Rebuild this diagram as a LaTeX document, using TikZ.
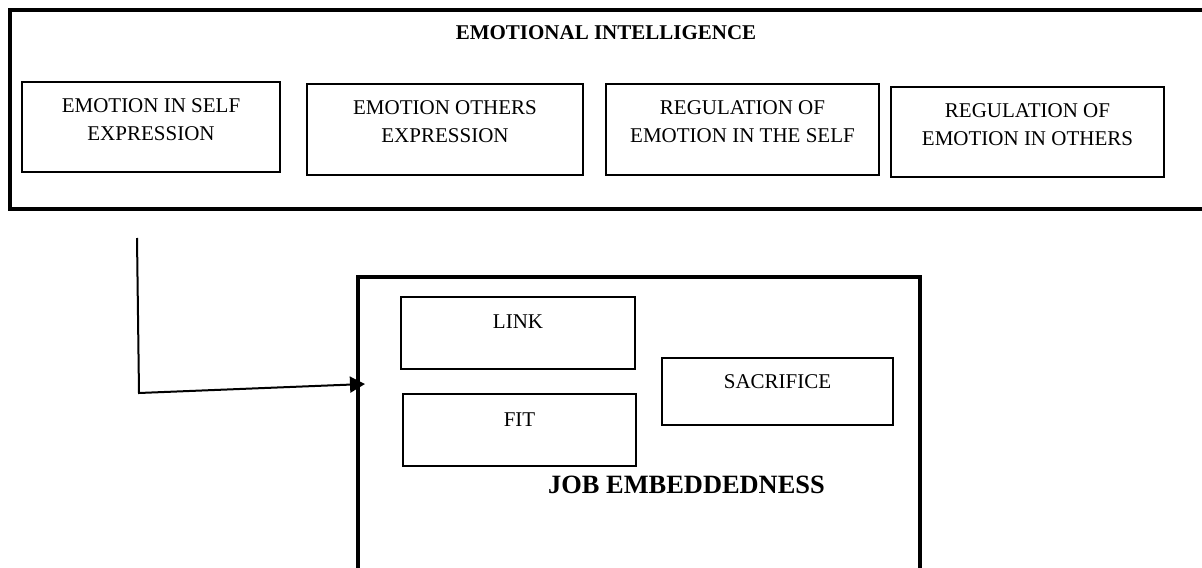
\documentclass[tikz,border=0pt]{standalone}
\usepackage{fontspec}
\setmainfont{Liberation Serif}
\usetikzlibrary{fit,arrows.meta}
\begin{document}
\begin{tikzpicture}[x=0.5pt,y=-0.5pt,
  outerbox/.style={draw,line width=1.6pt,inner sep=0pt},
  innerbox/.style={draw,line width=0.9pt,inner sep=0pt},
  boxtext/.style={font=\fontsize{10.5pt}{13.8pt}\selectfont,align=center,inner sep=0pt},
  linetext/.style={font=\fontsize{10.5pt}{14pt}\selectfont,inner sep=0pt,anchor=base},
  titletext/.style={font=\fontsize{10.5pt}{14pt}\selectfont\bfseries,inner sep=0pt,anchor=base},
  jobtext/.style={font=\fontsize{13.2pt}{16pt}\selectfont\bfseries,inner sep=0pt,anchor=base},
  conn/.style={line width=1pt,-{Triangle[length=7.5pt,width=8pt]}}
]
\useasboundingbox (0,0) rectangle (1202,567);
\clip (0,0) rectangle (1202,567);
\fill[white] (0,0) rectangle (1202,567);

% Emotional intelligence block
\node[outerbox,fit={(10,10)(1212,209)}] (ei) {};
\node[titletext] (eititle) at (606,40) {EMOTIONAL INTELLIGENCE};

\node[innerbox,fit={(22,82)(280,172)}] (b1) {};
\node[boxtext] (t1) at (151,119.5) {EMOTION IN SELF\\EXPRESSION};
\node[innerbox,fit={(307,84)(583,175)}] (b2) {};
\node[boxtext] (t2) at (445,121.5) {EMOTION OTHERS\\EXPRESSION};
\node[innerbox,fit={(606,84)(879,175)}] (b3) {};
\node[boxtext] (t3) at (742.5,121.5) {REGULATION OF\\EMOTION IN THE SELF};
\node[innerbox,fit={(891,87)(1164,177)}] (b4) {};
\node[boxtext] (t4) at (1027.5,124.5) {REGULATION OF\\EMOTION IN OTHERS};

% Job embeddedness block
\node[outerbox,fit={(358,277)(920,600)}] (job) {};
\node[innerbox,fit={(401,297)(635,369)}] (link) {};
\node[linetext] (linkt) at (518,328) {LINK};
\node[innerbox,fit={(403,394)(636,466)}] (fit) {};
\node[linetext] (fitt) at (519.5,426) {FIT};
\node[innerbox,fit={(662,358)(893,425)}] (sac) {};
\node[linetext] (sact) at (777.5,388) {SACRIFICE};
\node[jobtext] (jobtitle) at (686.5,493) {JOB EMBEDDEDNESS};

% connector
\coordinate (arrstart) at (137,238);
\coordinate (arrcorner) at (139,393);
\coordinate (arrtip) at (365,384);
\draw[conn] (arrstart) -- (arrcorner) -- (arrtip);
\end{tikzpicture}
\end{document}
